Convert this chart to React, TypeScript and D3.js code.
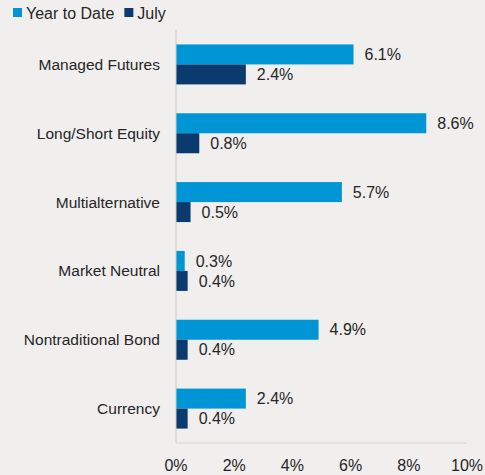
import { useEffect, useRef } from "react"
import * as d3 from "d3"

const categories = ["Managed Futures", "Long/Short Equity", "Multialternative", "Market Neutral", "Nontraditional Bond", "Currency"]
const yearToDate = [6.1, 8.6, 5.7, 0.3, 4.9, 2.4]
const july = [2.4, 0.8, 0.5, 0.4, 0.4, 0.4]
const xTicks = [0, 2, 4, 6, 8, 10]
const seriesNames = ["Year to Date", "July"]

const W = 485
const H = 475
const colors = ["#0096D6", "#0B3A6F"]
const textColor = "#262626"
const font = "Liberation Sans, Arial, sans-serif"

export default function App() {
    const ref = useRef<SVGSVGElement>(null)

    useEffect(() => {
        const svg = d3.select(ref.current)
        svg.selectAll("*").remove()

        const margin = { top: 30, right: 18, bottom: 32, left: 176 }

        svg.append("rect").attr("width", W).attr("height", H).attr("fill", "#F0EFEE")

        const x = d3.scaleLinear([0, 10], [margin.left, margin.left + 291])
        const y = d3.scaleBand(categories, [margin.top, H - margin.bottom]).paddingInner(0).paddingOuter(0)
        const barH = 20

        const series = [yearToDate, july]

        // bars + value labels
        series.forEach((vals, si) => {
            svg.append("g")
                .selectAll("rect")
                .data(vals)
                .join("rect")
                .attr("x", x(0))
                .attr("y", (_, i) => y(categories[i])! + y.bandwidth() / 2 - barH + si * barH)
                .attr("width", d => x(d) - x(0))
                .attr("height", barH)
                .attr("fill", colors[si])

            svg.append("g")
                .selectAll("text")
                .data(vals)
                .join("text")
                .attr("x", d => x(d) + 11)
                .attr("y", (_, i) => y(categories[i])! + y.bandwidth() / 2 - barH / 2 + si * barH)
                .attr("dy", "0.35em")
                .attr("font-family", font)
                .attr("font-size", 16)
                .attr("fill", textColor)
                .text(d => `${d.toFixed(1)}%`)
        })

        // axis lines
        svg.append("line")
            .attr("x1", x(0)).attr("x2", x(0))
            .attr("y1", margin.top).attr("y2", H - margin.bottom)
            .attr("stroke", "#C9C9C9")
        svg.append("line")
            .attr("x1", x(0)).attr("x2", x(10))
            .attr("y1", H - margin.bottom).attr("y2", H - margin.bottom)
            .attr("stroke", "#D4D4D4")

        // category labels
        svg.append("g")
            .selectAll("text")
            .data(categories)
            .join("text")
            .attr("x", margin.left - 16)
            .attr("y", d => y(d)! + y.bandwidth() / 2)
            .attr("dy", "0.35em")
            .attr("text-anchor", "end")
            .attr("font-family", font)
            .attr("font-size", 15.5)
            .attr("fill", textColor)
            .text(d => d)

        // tick labels
        svg.append("g")
            .selectAll("text")
            .data(xTicks)
            .join("text")
            .attr("x", d => x(d))
            .attr("y", H - 4)
            .attr("text-anchor", "middle")
            .attr("font-family", font)
            .attr("font-size", 16)
            .attr("fill", textColor)
            .text(d => `${d}%`)

        // legend
        const legend = svg.append("g")
        let lx = 13
        seriesNames.forEach((name, i) => {
            legend.append("rect").attr("x", lx).attr("y", 8).attr("width", 9).attr("height", 9).attr("fill", colors[i])
            const t = legend.append("text")
                .attr("x", lx + 13).attr("y", 19)
                .attr("font-family", font)
                .attr("font-size", 16)
                .attr("fill", textColor)
                .text(name)
            lx += 13 + (t.node() as SVGTextElement).getComputedTextLength() + 10
        })
    }, [])

    return <svg ref={ref} width={W} height={H} style={{ display: "block", position: "absolute", left: 0, top: 0 }} />
}
